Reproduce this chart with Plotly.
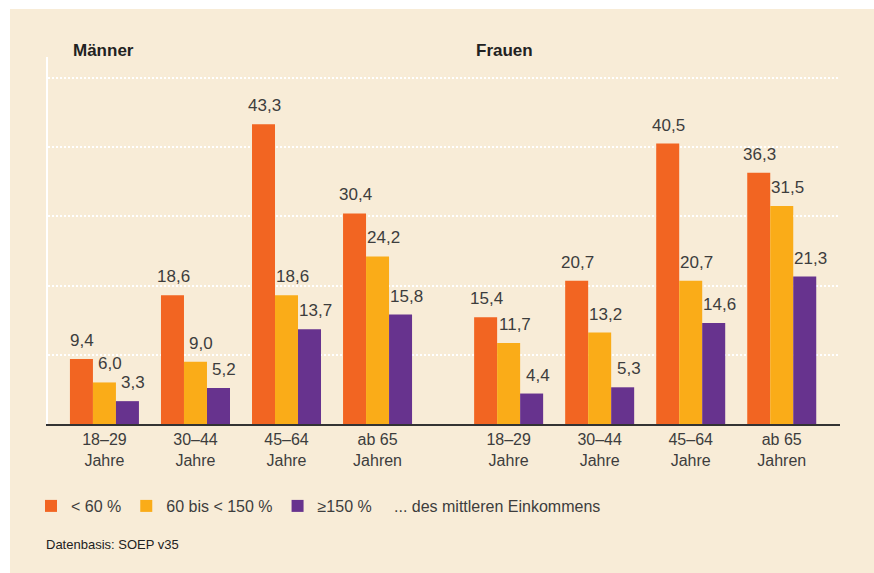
import plotly.graph_objects as go

# age groups, men first then women
groups = ["18–29<br>Jahre", "30–44<br>Jahre", "45–64<br>Jahre", "ab 65<br>Jahren"]
group_pos = [0, 1, 2, 3, 4.44, 5.44, 6.44, 7.44]
tick_labels = groups + groups

series_names = ["< 60 %", "60 bis < 150 %", "≥150 %"]
colors = ["#F26522", "#FAAC18", "#67338E"]

low = [9.4, 18.6, 43.3, 30.4, 15.4, 20.7, 40.5, 36.3]
mid = [6.0, 9.0, 18.6, 24.2, 11.7, 13.2, 20.7, 31.5]
high = [3.3, 5.2, 13.7, 15.8, 4.4, 5.3, 14.6, 21.3]
values = [low, mid, high]

BG = "#F8ECD7"
TXT = "#3d3d3d"
FONT = "Liberation Sans, Arial, sans-serif"
BARGAP = 0.242

# figure size and plot area in figure pixels (page puts figure at 10,9)
FW, FH = 864, 564
L, T, W, H = 38, 48, 792, 367


def px_x(p):
    return (p - L) / W


def px_y(p):
    return (T + H - p) / H


fig = go.Figure()
for name, col, vals in zip(series_names, colors, values):
    fig.add_trace(
        go.Bar(
            x=group_pos,
            y=vals,
            name=name,
            marker=dict(color=col, line=dict(width=0)),
            hoverinfo="skip",
        )
    )

# value labels above each bar
w = (1 - BARGAP) / 3
shifts = [1, 6, 6]
for i, vals in enumerate(values):
    for gx, v in zip(group_pos, vals):
        fig.add_annotation(
            x=gx + (i - 1) * w,
            y=v,
            xref="x",
            yref="y",
            text=f"{v:.1f}".replace(".", ","),
            showarrow=False,
            yanchor="bottom",
            yshift=7,
            xshift=shifts[i],
            font=dict(family=FONT, size=17, color=TXT),
        )

# panel titles and notes
fig.add_annotation(x=px_x(61), y=px_y(41), xref="paper", yref="paper", text="<b>Männer</b>",
                   showarrow=False, xanchor="left", yanchor="middle",
                   font=dict(family=FONT, size=17, color="#222222"))
fig.add_annotation(x=px_x(464), y=px_y(41), xref="paper", yref="paper", text="<b>Frauen</b>",
                   showarrow=False, xanchor="left", yanchor="middle",
                   font=dict(family=FONT, size=17, color="#222222"))
fig.add_annotation(x=px_x(382), y=px_y(497), xref="paper", yref="paper",
                   text="... des mittleren Einkommens", showarrow=False,
                   xanchor="left", yanchor="middle",
                   font=dict(family=FONT, size=16, color=TXT))
fig.add_annotation(x=px_x(34), y=px_y(535), xref="paper", yref="paper",
                   text="Datenbasis: SOEP v35", showarrow=False,
                   xanchor="left", yanchor="middle",
                   font=dict(family=FONT, size=13, color="#222222"))

fig.update_layout(
    width=FW,
    height=FH,
    autosize=False,
    margin=dict(l=L, r=FW - L - W, t=T, b=FH - T - H, pad=0),
    paper_bgcolor=BG,
    plot_bgcolor=BG,
    barmode="group",
    bargap=BARGAP,
    bargroupgap=0,
    font=dict(family=FONT, color=TXT),
    legend=dict(
        orientation="h",
        x=px_x(21),
        xanchor="left",
        y=px_y(497),
        yanchor="middle",
        bgcolor="rgba(0,0,0,0)",
        font=dict(family=FONT, size=16, color=TXT),
        itemclick=False,
        itemdoubleclick=False,
    ),
    xaxis=dict(
        range=[-0.62, 8.08],
        tickmode="array",
        tickvals=group_pos,
        ticktext=tick_labels,
        tickfont=dict(family=FONT, size=16, color=TXT),
        showgrid=False,
        zeroline=False,
        showline=True,
        linecolor="#333333",
        linewidth=2,
        ticks="",
        fixedrange=True,
    ),
    yaxis=dict(
        range=[0, 53],
        tickvals=[10, 20, 30, 40, 50],
        showticklabels=False,
        showgrid=True,
        gridcolor="white",
        gridwidth=2,
        griddash="2px,2px",
        zeroline=False,
        showline=True,
        linecolor="white",
        linewidth=2,
        ticks="",
        fixedrange=True,
    ),
)

fig.write_html(
    "out.html",
    post_script="document.body.style.margin='9px 0 0 10px';document.body.style.overflow='hidden';",
)
